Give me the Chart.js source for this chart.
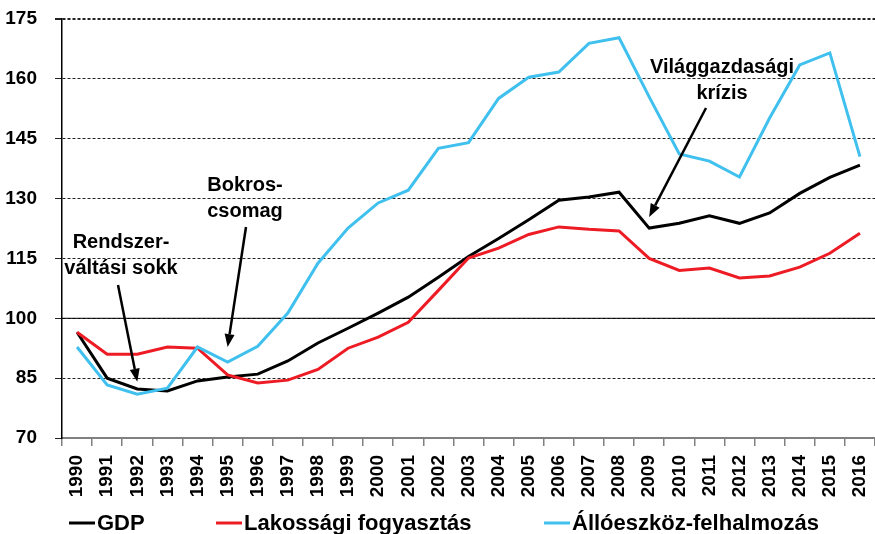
<!DOCTYPE html>
<html>
<head>
<meta charset="utf-8">
<script src="https://cdn.jsdelivr.net/npm/chart.js@4/dist/chart.umd.min.js"></script>
<style>
  html, body { margin: 0; padding: 0; background: #fff; }
  #wrap { width: 875px; height: 534px; }
</style>
</head>
<body>
<div id="wrap"><canvas id="chart" width="875" height="534"></canvas></div>
<script>
const years = ["1990","1991","1992","1993","1994","1995","1996","1997","1998","1999","2000","2001","2002","2003",
  "2004","2005","2006","2007","2008","2009","2010","2011","2012","2013","2014","2015","2016"];

const gdp = [96.5, 85, 82.3, 81.8, 84.3, 85.3, 86, 89.3, 93.8, 97.5, 101.3, 105.3, 110.3, 115.5,
  120, 124.7, 129.6, 130.4, 131.6, 122.6, 123.8, 125.7, 123.8, 126.4, 131.3, 135.3, 138.4];

const consumption = [96.5, 91, 91, 92.8, 92.5, 85.8, 83.8, 84.5, 87.2, 92.5, 95.3, 99, 107, 115.1,
  117.6, 121, 122.9, 122.3, 121.9, 115, 112, 112.6, 110.1, 110.6, 112.8, 116.3, 121.3];

const investment = [92.8, 83.3, 81, 82.5, 92.8, 89, 93, 101.3, 113.8, 122.6, 128.9, 132.1, 142.6, 144,
  155.1, 160.4, 161.7, 168.9, 170.3, 155.5, 141.2, 139.4, 135.4, 150.2, 163.5, 166.5, 140.5];

const seriesLabels = ["GDP", "Lakossági fogyasztás", "Állóeszköz-felhalmozás"];
const seriesColors = ["#000000", "#ed1c24", "#3fc0ee"];

const yMin = 70, yMax = 175, yStep = 15;

// annotation texts, arrow tips point at (year, value)
const notes = [
  { lines: ["Rendszer-", "váltási sokk"], cx: 121, y: 248, from: [118, 285], tip: ["1992", 84.1] },
  { lines: ["Bokros-", "csomag"], cx: 245, y: 191, from: [246, 227], tip: ["1995", 92.8] },
  { lines: ["Világgazdasági", "krízis"], cx: 722, y: 73, from: [706, 108], tip: ["2009", 125.4] }
];

const FONT = "'Liberation Sans', Arial, sans-serif";

const extrasPlugin = {
  id: "extras",
  beforeDatasetsDraw(chart) {
    const { ctx, chartArea, scales } = chart;
    // solid line at 100
    const y100 = scales.y.getPixelForValue(100);
    ctx.save();
    ctx.strokeStyle = "#000";
    ctx.lineWidth = 1;
    ctx.beginPath();
    ctx.moveTo(chartArea.left, y100);
    ctx.lineTo(chartArea.right, y100);
    ctx.stroke();
    ctx.restore();
  },
  afterDraw(chart) {
    const { ctx, scales } = chart;
    ctx.save();
    ctx.fillStyle = "#000";
    ctx.strokeStyle = "#000";
    ctx.font = "bold 20px " + FONT;
    ctx.textAlign = "center";
    ctx.textBaseline = "alphabetic";
    notes.forEach((n) => {
      n.lines.forEach((t, i) => ctx.fillText(t, n.cx, n.y + i * 26));
      const x0 = n.from[0], y0 = n.from[1];
      const x1 = scales.x.getPixelForValue(years.indexOf(n.tip[0]));
      const y1 = scales.y.getPixelForValue(n.tip[1]);
      const ang = Math.atan2(y1 - y0, x1 - x0);
      const head = 13, half = 5;
      const bx = x1 - head * Math.cos(ang), by = y1 - head * Math.sin(ang);
      ctx.lineWidth = 2.5;
      ctx.beginPath();
      ctx.moveTo(x0, y0);
      ctx.lineTo(bx, by);
      ctx.stroke();
      ctx.beginPath();
      ctx.moveTo(x1, y1);
      ctx.lineTo(bx + half * Math.sin(ang), by - half * Math.cos(ang));
      ctx.lineTo(bx - half * Math.sin(ang), by + half * Math.cos(ang));
      ctx.closePath();
      ctx.fill();
    });

    // legend
    const legendX = [69, 216, 544];
    const legendY = 523;
    ctx.font = "bold 22px " + FONT;
    ctx.textAlign = "left";
    ctx.textBaseline = "middle";
    seriesLabels.forEach((label, i) => {
      const x = legendX[i];
      ctx.strokeStyle = seriesColors[i];
      ctx.lineWidth = 3;
      ctx.beginPath();
      ctx.moveTo(x, legendY);
      ctx.lineTo(x + 26, legendY);
      ctx.stroke();
      ctx.fillStyle = "#000";
      ctx.fillText(label, x + 28, legendY + 1);
    });
    ctx.restore();
  }
};

const mkSet = (label, data, color) => ({
  label,
  data,
  borderColor: color,
  backgroundColor: color,
  borderWidth: 3,
  pointRadius: 0,
  tension: 0,
  fill: false
});

new Chart(document.getElementById("chart"), {
  type: "line",
  data: {
    labels: years,
    datasets: [
      mkSet(seriesLabels[2], investment, seriesColors[2]),
      mkSet(seriesLabels[1], consumption, seriesColors[1]),
      mkSet(seriesLabels[0], gdp, seriesColors[0])
    ]
  },
  options: {
    responsive: false,
    animation: false,
    devicePixelRatio: 1,
    layout: { padding: { top: 19, right: 0, left: 0, bottom: 0 } },
    plugins: { legend: { display: false }, tooltip: { enabled: false } },
    scales: {
      x: {
        offset: true,
        grid: { offset: true, drawOnChartArea: false, drawTicks: true, tickLength: 8, color: "#808080", lineWidth: 1.5 },
        border: { display: true, color: "#808080", width: 2 },
        ticks: {
          autoSkip: false,
          maxRotation: 90,
          minRotation: 90,
          padding: 9,
          color: "#000",
          font: { family: FONT, size: 19, weight: "bold" }
        },
        afterFit(scale) {
          scale.height = 96;
          scale.paddingLeft = 0;
          scale.paddingRight = 0;
        }
      },
      y: {
        min: yMin,
        max: yMax,
        ticks: {
          stepSize: yStep,
          padding: 18,
          color: "#000",
          font: { family: FONT, size: 19, weight: "bold" }
        },
        grid: {
          color: "#222",
          lineWidth: (c) => (c.tick && c.tick.value === yMax ? 2 : 1),
          tickLength: 7
        },
        border: { display: true, color: "#000", width: 1.5, dash: [3, 2] },
        afterFit(scale) {
          scale.width = 62;
          scale.paddingTop = 0;
          scale.paddingBottom = 0;
        }
      }
    }
  },
  plugins: [extrasPlugin]
});
</script>
</body>
</html>
